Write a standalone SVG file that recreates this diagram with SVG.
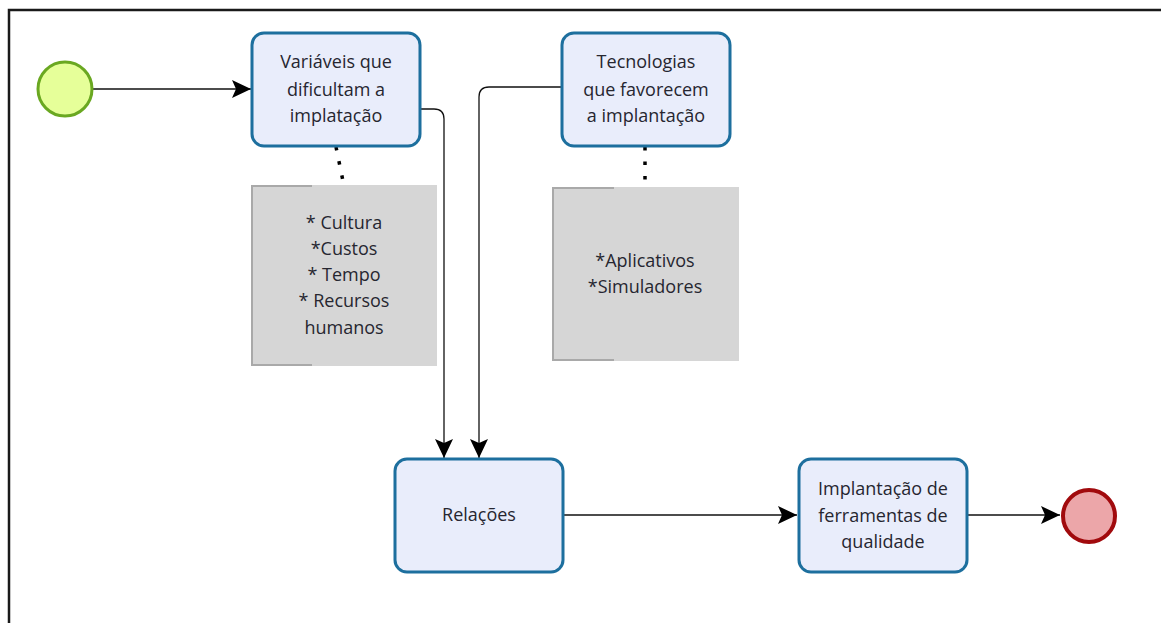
<svg xmlns="http://www.w3.org/2000/svg" width="1161" height="623" viewBox="0 0 1161 623">
<style>
.task{fill:#e9edfb;stroke:#1d6f9e;stroke-width:3}
.lbl{font-family:"Open Sans","Noto Sans",sans-serif;font-size:18px;fill:#262630;text-anchor:middle}
.ann{fill:#d6d6d6}
.br{fill:none;stroke:#a9a9a9;stroke-width:2}
.flow{fill:none;stroke:#111;stroke-width:1.3}
.assoc{fill:none;stroke:#000;stroke-width:3.5;stroke-dasharray:3.5 11}
</style>
<defs>
<marker id="arr" markerUnits="userSpaceOnUse" markerWidth="20" markerHeight="18" refX="19" refY="9" orient="auto">
<path d="M0,0 L19,9 L0,18 L4,9 Z" fill="#000"/>
</marker>
</defs>
<rect x="0" y="0" width="1161" height="623" fill="#fff"/>
<path d="M9,623 V10 H1161" fill="none" stroke="#1a1a1a" stroke-width="2.5"/>
<g id="connectors">
<path class="flow" d="M93,89 H251" marker-end="url(#arr)"/>
<path class="flow" d="M421,109 H434 Q444,109 444,119 V458" marker-end="url(#arr)"/>
<path class="flow" d="M561,87 H489 Q479,87 479,97 V458" marker-end="url(#arr)"/>
<path class="flow" d="M564,515 H797" marker-end="url(#arr)"/>
<path class="flow" d="M968,515 H1060" marker-end="url(#arr)"/>
<path class="assoc" d="M336,147 L344,186"/>
<path class="assoc" d="M645,147 L645,187"/>
</g>
<g id="start">
<circle cx="65" cy="89" r="27" fill="#e6ff99" stroke="#6aa821" stroke-width="3"/>
</g>
<g id="task1">
<rect class="task" x="252" y="33" width="168" height="113" rx="12"/>
<text class="lbl" x="336" y="68">Variáveis que</text>
<text class="lbl" x="336" y="96">dificultam a</text>
<text class="lbl" x="336" y="122">implatação</text>
</g>
<g id="ann1">
<rect class="ann" x="251" y="185" width="186" height="181"/>
<path class="br" d="M312,186 H252 V365 H312"/>
<text class="lbl" x="344" y="229">* Cultura</text>
<text class="lbl" x="344" y="255">*Custos</text>
<text class="lbl" x="344" y="281">* Tempo</text>
<text class="lbl" x="344" y="307">* Recursos</text>
<text class="lbl" x="344" y="334">humanos</text>
</g>
<g id="task2">
<rect class="task" x="562" y="33" width="168" height="113" rx="12"/>
<text class="lbl" x="646" y="68">Tecnologias</text>
<text class="lbl" x="646" y="96">que favorecem</text>
<text class="lbl" x="646" y="122">a implantação</text>
</g>
<g id="ann2">
<rect class="ann" x="552" y="187" width="187" height="174"/>
<path class="br" d="M614,188 H553 V360 H614"/>
<text class="lbl" x="645" y="267">*Aplicativos</text>
<text class="lbl" x="645" y="293">*Simuladores</text>
</g>
<g id="relacoes">
<rect class="task" x="395" y="459" width="168" height="113" rx="12"/>
<text class="lbl" x="479" y="521">Relações</text>
</g>
<g id="task3">
<rect class="task" x="799" y="459" width="168" height="113" rx="12"/>
<text class="lbl" x="883" y="495">Implantação de</text>
<text class="lbl" x="883" y="522">ferramentas de</text>
<text class="lbl" x="883" y="548">qualidade</text>
</g>
<g id="end">
<circle cx="1089" cy="516" r="26" fill="#eca6a9" stroke="#a10a0d" stroke-width="4"/>
</g>
</svg>
